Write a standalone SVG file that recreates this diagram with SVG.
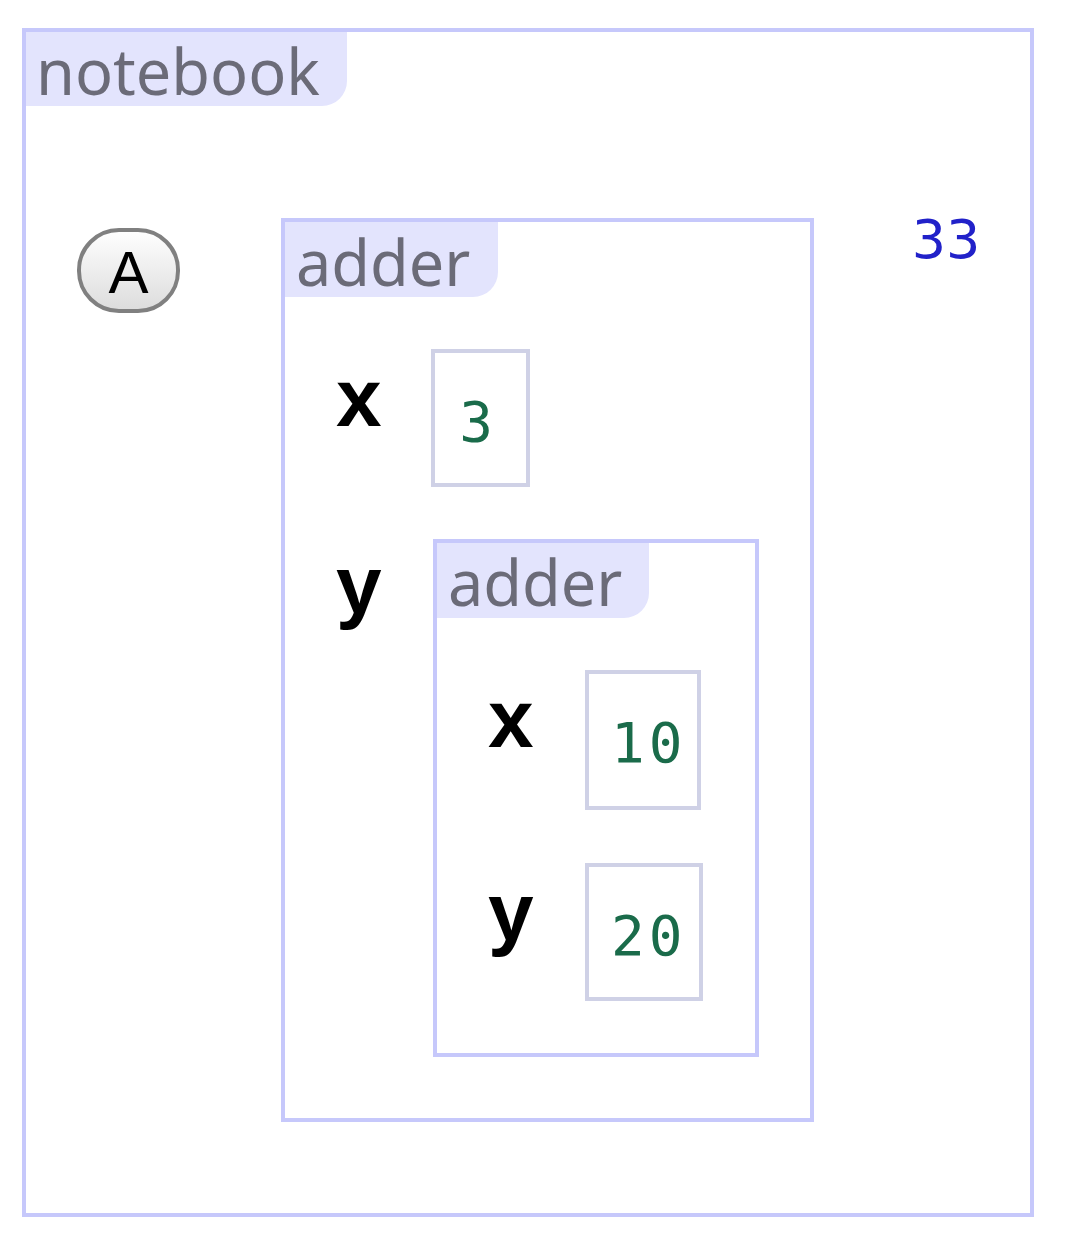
<svg xmlns="http://www.w3.org/2000/svg" width="1066" height="1242" viewBox="0 0 1066 1242">
<defs>
<linearGradient id="pill" x1="0" y1="0" x2="0" y2="1">
<stop offset="0" stop-color="#ffffff"/>
<stop offset="1" stop-color="#dcdcdc"/>
</linearGradient>
<style>
.frame{fill:#ffffff;stroke:#c6c8fb;stroke-width:4}
.tab{fill:#e3e4fd}
.title{font-family:"Noto Sans","Open Sans",sans-serif;font-size:63px;fill:#6b6b78}
.var{font-family:"Liberation Sans",Arial,sans-serif;font-weight:bold;font-size:82px;fill:#000}
.box{fill:#ffffff;stroke:#cfd1e6;stroke-width:4}
.val{font-family:"DejaVu Sans Mono",monospace;font-size:56px;fill:#1a6b4a;letter-spacing:4px}
</style>
</defs>
<rect width="1066" height="1242" fill="#ffffff"/>
<g id="notebook">
<rect class="frame" x="24" y="30" width="1008" height="1185"/>
<path class="tab" d="M26 32 H347 V81 A25 25 0 0 1 322 106 H26 Z"/>
<text class="title" x="36" y="95">notebook</text>
</g>
<g id="nodeA">
<rect x="79" y="230" width="99" height="81" rx="40" ry="40" fill="url(#pill)" stroke="#808080" stroke-width="4"/>
<text x="128.5" y="293" text-anchor="middle" font-family="Liberation Sans,Arial,sans-serif" font-size="60" fill="#000">A</text>
</g>
<g id="result">
<text x="946" y="258" text-anchor="middle" font-family="DejaVu Sans,sans-serif" font-size="54" fill="#2121c9">33</text>
</g>
<g id="adder1">
<rect class="frame" x="283" y="220" width="529" height="900"/>
<path class="tab" d="M285 222 H498 V272 A25 25 0 0 1 473 297 H285 Z"/>
<text class="title" x="296" y="286">adder</text>
<text class="var" x="336" y="426">x</text>
<text class="var" x="336" y="613">y</text>
</g>
<g id="adder1-x">
<rect class="box" x="433" y="351" width="95" height="134"/>
<text class="val" x="478" y="441" text-anchor="middle">3</text>
</g>
<g id="adder2">
<rect class="frame" x="435" y="541" width="322" height="514"/>
<path class="tab" d="M437 543 H649 V593 A25 25 0 0 1 624 618 H437 Z"/>
<text class="title" x="448" y="606">adder</text>
<text class="var" x="488" y="747">x</text>
<text class="var" x="488" y="940">y</text>
</g>
<g id="adder2-x">
<rect class="box" x="587" y="672" width="112" height="136"/>
<text class="val" x="611" y="762">10</text>
</g>
<g id="adder2-y">
<rect class="box" x="587" y="865" width="114" height="134"/>
<text class="val" x="611" y="955">20</text>
</g>
<g id="connectors"></g>
</svg>
